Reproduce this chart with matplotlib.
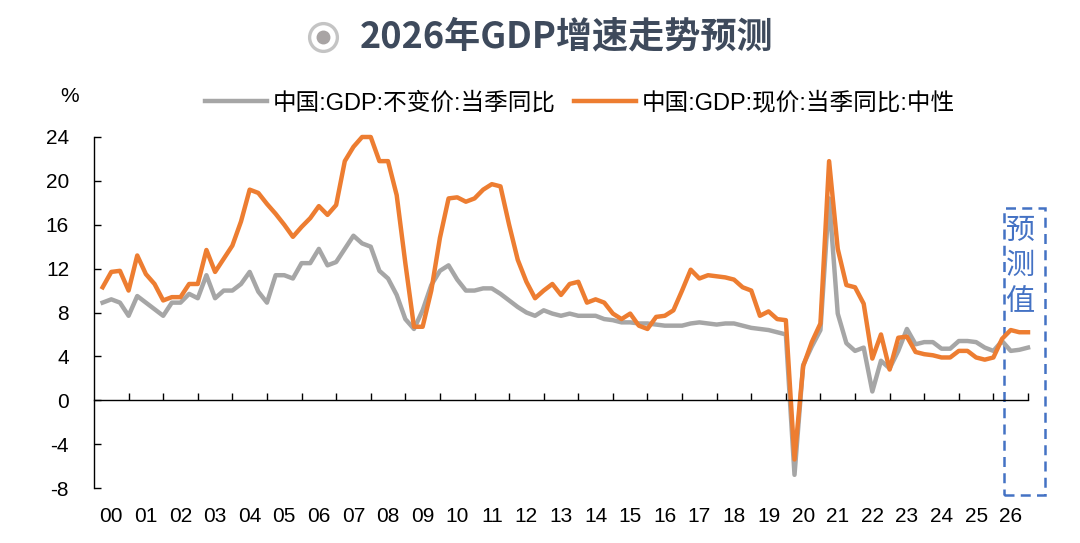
import numpy as np
import matplotlib
matplotlib.use("Agg")
import matplotlib.pyplot as plt
from matplotlib.lines import Line2D
from matplotlib.patches import Rectangle

plt.rcParams["font.family"] = ["Liberation Sans", "Noto Sans CJK SC", "DejaVu Sans"]

# quarterly yoy growth, 2000Q1 .. 2026Q4 (%)
real_gdp = [
    8.9, 9.2, 8.9, 7.7,   9.5, 8.9, 8.3, 7.7,   8.9, 8.9, 9.7, 9.3,
    11.4, 9.3, 10.0, 10.0,   10.6, 11.7, 9.9, 8.9,   11.4, 11.4, 11.1, 12.5,
    12.5, 13.8, 12.3, 12.6,   13.8, 15.0, 14.3, 14.0,   11.8, 11.1, 9.6, 7.4,
    6.5, 8.2, 10.5, 11.8,   12.3, 11.0, 10.0, 10.0,   10.2, 10.2, 9.7, 9.1,
    8.5, 8.0, 7.7, 8.2,   7.9, 7.7, 7.9, 7.7,   7.7, 7.7, 7.4, 7.3,
    7.1, 7.1, 7.0, 7.0,   6.9, 6.8, 6.8, 6.8,   7.0, 7.1, 7.0, 6.9,
    7.0, 7.0, 6.8, 6.6,   6.5, 6.4, 6.2, 6.0,   -6.8, 3.2, 4.9, 6.4,
    18.4, 7.9, 5.2, 4.5,   4.8, 0.8, 3.6, 2.9,   4.5, 6.5, 5.1, 5.3,
    5.3, 4.7, 4.7, 5.4,   5.4, 5.3, 4.8, 4.5,   5.4, 4.5, 4.6, 4.8,
]
nominal_gdp = [
    10.3, 11.7, 11.8, 10.0,   13.2, 11.5, 10.6, 9.1,   9.4, 9.4, 10.6, 10.6,
    13.7, 11.7, 12.9, 14.1,   16.3, 19.2, 18.9, 17.9,   17.0, 16.0, 14.9, 15.8,
    16.6, 17.7, 16.9, 17.8,   21.8, 23.1, 24.0, 24.0,   21.8, 21.8, 18.7, 12.5,
    6.7, 6.7, 10.0, 14.8,   18.4, 18.5, 18.1, 18.4,   19.2, 19.7, 19.5, 16.0,
    12.8, 10.8, 9.3, 10.0,   10.6, 9.6, 10.6, 10.8,   8.9, 9.2, 8.9, 7.9,
    7.4, 7.9, 6.8, 6.5,   7.6, 7.7, 8.2, 10.0,   11.9, 11.1, 11.4, 11.3,
    11.2, 11.0, 10.3, 10.0,   7.7, 8.1, 7.4, 7.3,   -5.4, 3.1, 5.3, 7.0,
    21.8, 13.8, 10.5, 10.3,   8.8, 3.8, 6.0, 2.8,   5.7, 5.8, 4.4, 4.2,
    4.1, 3.9, 3.9, 4.5,   4.5, 3.9, 3.7, 3.9,   5.6, 6.4, 6.2, 6.2,
]
years = list(range(2000, 2027))
year_labels = [f"{y % 100:02d}" for y in years]
y_ticks = [-8, -4, 0, 4, 8, 12, 16, 20, 24]
label_real = "中国:GDP:不变价:当季同比"
label_nominal = "中国:GDP:现价:当季同比:中性"
forecast_text = "预\n测\n值"

GREY = "#A6A6A6"
ORANGE = "#ED7D31"
BLUE = "#4472C4"


def main():
    fig = plt.figure(figsize=(10.8, 5.43), dpi=100)
    ax = fig.add_axes([94 / 1080, 1 - 488 / 543, 934 / 1080, 351 / 543])

    # points sit at quarter ends
    x = years[0] + np.arange(1, len(real_gdp) + 1) / 4.0
    ax.plot(x, real_gdp, color=GREY, lw=3.2, solid_joinstyle="round", clip_on=False,
            label=label_real)
    ax.plot(x, nominal_gdp, color=ORANGE, lw=3.2, solid_joinstyle="round", clip_on=False,
            label=label_nominal)

    ax.set_xlim(years[0], years[-1] + 1)
    ax.set_ylim(y_ticks[0], y_ticks[-1])

    for s in ["top", "right"]:
        ax.spines[s].set_visible(False)
    ax.spines["bottom"].set_position(("data", 0))
    ax.spines["bottom"].set_linewidth(1.0)
    ax.spines["left"].set_linewidth(1.0)

    ax.set_xticks([y + 1 for y in years])
    ax.set_xticklabels([])
    ax.tick_params(axis="x", direction="in", length=5, width=1)
    ax.set_yticks(y_ticks)
    ax.set_yticklabels([str(v) for v in y_ticks], fontsize=15)
    ax.tick_params(axis="y", direction="in", length=5, width=1, pad=18)

    # year labels at the bottom of the plot
    sec = ax.secondary_xaxis("bottom")
    sec.set_xticks([y + 0.5 for y in years])
    sec.set_xticklabels(year_labels, fontsize=15)
    sec.tick_params(length=0, pad=14)
    sec.spines["bottom"].set_visible(False)

    # forecast box
    box = Rectangle((2026.3, -8.6), 1.18, 26.1, fill=False, edgecolor=BLUE, lw=1.8,
                    ls=(0, (4, 2.5)), clip_on=False)
    ax.add_patch(box)
    ax.text(2026.77, 12.2, forecast_text, color=BLUE, fontsize=21, ha="center", va="center",
            linespacing=1.25, family=["Noto Sans CJK SC", "DejaVu Sans"])

    fig.text(70 / 1080, 1 - 97 / 543, "%", fontsize=15, ha="center", va="center")

    fig.legend(loc="center", bbox_to_anchor=(580 / 1080, 1 - 103 / 543), ncol=2,
               frameon=False, handlelength=2.6, handletextpad=0.25, columnspacing=0.8,
               prop={"family": ["Liberation Sans", "Noto Sans CJK SC"], "size": 17})

    # title with round icon
    ty = 1 - 37 / 543
    fig.add_artist(Line2D([323 / 1080], [ty], marker="o", markersize=20, markerfacecolor="white",
                          markeredgecolor="#C4C4C4", markeredgewidth=2.4,
                          transform=fig.transFigure))
    fig.add_artist(Line2D([323 / 1080], [ty], marker="o", markersize=9, markerfacecolor="#A8A4A4",
                          markeredgecolor="#A8A4A4", transform=fig.transFigure))
    fig.text(567 / 1080, ty, "2026年GDP增速走势预测", fontsize=26, fontweight="bold",
             color="#3E4A5C", ha="center", va="center",
             family=["Noto Sans CJK SC", "DejaVu Sans"])

    fig.savefig("out.png", facecolor="white")
    plt.close(fig)


if __name__ == "__main__":
    main()
